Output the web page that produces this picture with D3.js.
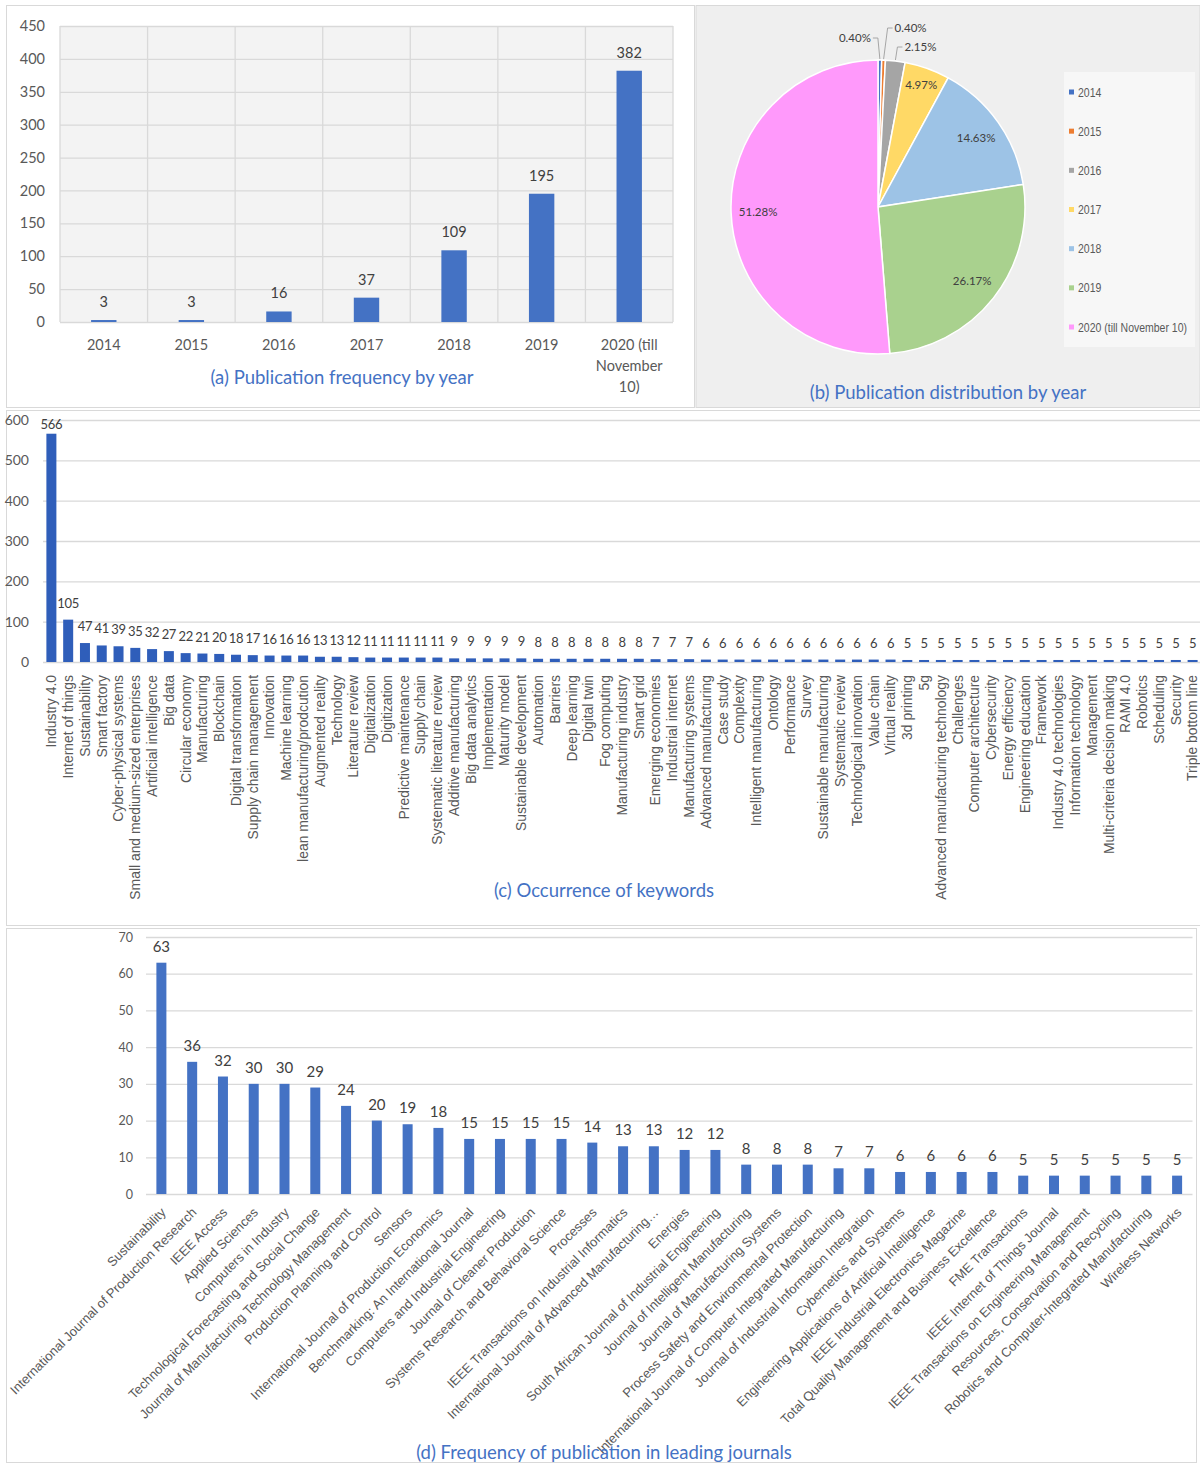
<!DOCTYPE html>
<html>
<head>
<meta charset="utf-8">
<script src="https://cdn.jsdelivr.net/npm/d3@7"></script>
<style>
  body { margin: 0; background: #fff; }
  svg text { font-family: Lato, "Open Sans", sans-serif; }
  .arial { font-family: "Liberation Sans", Arial, sans-serif; }
</style>
</head>
<body>
<svg id="chart" width="1200" height="1464"></svg>
<script>
// ---- data ----
const years = ["2014", "2015", "2016", "2017", "2018", "2019", "2020 (till November 10)"];
const yearCounts = [3, 3, 16, 37, 109, 195, 382];
const yearTicks = [0, 50, 100, 150, 200, 250, 300, 350, 400, 450];
const yearColors = ["#4472c4", "#ed7d31", "#a5a5a5", "#ffd966", "#9dc3e6", "#a9d18e", "#ff99fb"];

const keywords = ["Industry 4.0", "Internet of things", "Sustainability", "Smart factory", "Cyber-physical systems",
  "Small and medium-sized enterprises", "Artificial intelligence", "Big data", "Circular economy", "Manufacturing",
  "Blockchain", "Digital transformation", "Supply chain management", "Innovation", "Machine learning",
  "lean manufacturing/prodcution", "Augmented reality", "Technology", "Literature review", "Digitalization",
  "Digitization", "Predictive maintenance", "Supply chain", "Systematic literature review", "Additive manufacturing",
  "Big data analytics", "Implementation", "Maturity model", "Sustainable development", "Automation",
  "Barriers", "Deep learning", "Digital twin", "Fog computing", "Manufacturing industry",
  "Smart grid", "Emerging economies", "Industrial internet", "Manufacturing systems", "Advanced manufacturing",
  "Case study", "Complexity", "Intelligent manufacturing", "Ontology", "Performance",
  "Survey", "Sustainable manufacturing", "Systematic review", "Technological innovation", "Value chain",
  "Virtual reality", "3d printing", "5g", "Advanced manufacturing technology", "Challenges",
  "Computer architecture", "Cybersecurity", "Energy efficiency", "Engineering education", "Framework",
  "Industry 4.0 technologies", "Information technology", "Management", "Multi-criteria decision making", "RAMI 4.0",
  "Robotics", "Scheduling", "Security", "Triple bottom line"];
const keywordCounts = [566, 105, 47, 41, 39, 35, 32, 27, 22, 21,
  20, 18, 17, 16, 16, 16, 13, 13, 12, 11,
  11, 11, 11, 11, 9, 9, 9, 9, 9, 8,
  8, 8, 8, 8, 8, 8, 7, 7, 7, 6,
  6, 6, 6, 6, 6, 6, 6, 6, 6, 6,
  6, 5, 5, 5, 5, 5, 5, 5, 5, 5,
  5, 5, 5, 5, 5, 5, 5, 5, 5];
const keywordTicks = [0, 100, 200, 300, 400, 500, 600];

const journals = ["Sustainability", "International Journal of Production Research", "IEEE Access", "Applied Sciences",
  "Computers in Industry", "Technological Forecasting and Social Change", "Journal of Manufacturing Technology Management",
  "Production Planning and Control", "Sensors", "International Journal of Production Economics",
  "Benchmarking: An International Journal", "Computers and Industrial Engineering", "Journal of Cleaner Production",
  "Systems Research and Behavioral Science", "Processes", "IEEE Transactions on Industrial Informatics",
  "International Journal of Advanced Manufacturing\u2026", "Energies", "South African Journal of Industrial Engineering",
  "Journal of Intelligent Manufacturing", "Journal of Manufacturing Systems", "Process Safety and Environmental Protection",
  "International Journal of Computer Integrated Manufacturing", "Journal of Industrial Information Integration",
  "Cybernetics and Systems", "Engineering Applications of Artificial Intelligence", "IEEE Industrial Electronics Magazine",
  "Total Quality Management and Business Excellence", "FME Transactions", "IEEE Internet of Things Journal",
  "IEEE Transactions on Engineering Management", "Resources, Conservation and Recycling",
  "Robotics and Computer-Integrated Manufacturing", "Wireless Networks"];
const journalCounts = [63, 36, 32, 30, 30, 29, 24, 20, 19, 18, 15, 15, 15, 15, 14, 13, 13, 12, 12,
  8, 8, 8, 7, 7, 6, 6, 6, 6, 5, 5, 5, 5, 5, 5];
const journalTicks = [0, 10, 20, 30, 40, 50, 60, 70];

const titleBlue = "#4472c4";
const gridGray = "#d9d9d9";
const svg = d3.select("#chart");

function wrap(text, width) {
  text.each(function () {
    const t = d3.select(this);
    const words = t.text().split(/\s+/);
    const x = t.attr("x"), y = +t.attr("y");
    let line = [], n = 0;
    let tspan = t.text(null).append("tspan").attr("x", x).attr("y", y);
    words.forEach(w => {
      line.push(w);
      tspan.text(line.join(" "));
      if (tspan.node().getComputedTextLength() > width && line.length > 1) {
        line.pop();
        tspan.text(line.join(" "));
        line = [w];
        tspan = t.append("tspan").attr("x", x).attr("y", y + (++n) * 21).text(w);
      }
    });
  });
}

function styleGrid(g) {
  g.select(".domain").remove();
  g.selectAll(".tick line").attr("stroke", gridGray).attr("stroke-width", 1.3);
  g.selectAll(".tick text").attr("fill", "#595959");
}

// ---- panel frames ----
svg.append("rect").attr("x", 6.5).attr("y", 5.5).attr("width", 688).attr("height", 402)
  .attr("fill", "#fff").attr("stroke", gridGray);
svg.append("rect").attr("x", 696).attr("y", 5.5).attr("width", 504).attr("height", 402)
  .attr("fill", "#efefef").attr("stroke", gridGray);
svg.append("rect").attr("x", 6.5).attr("y", 410.5).attr("width", 1194).attr("height", 515)
  .attr("fill", "#fff").attr("stroke", gridGray);
svg.append("rect").attr("x", 6.5).attr("y", 928.5).attr("width", 1190).attr("height", 534)
  .attr("fill", "#fff").attr("stroke", gridGray);

// ---- (a) publication frequency by year ----
const ax = d3.scaleBand().domain(years).range([60, 673]);
const ay = d3.scaleLinear().domain([0, 450]).range([322, 26]);
const ga = svg.append("g");
ga.append("rect").attr("x", 60).attr("y", 26).attr("width", 613).attr("height", 296).attr("fill", "#f3f3f3");
ga.append("g").attr("transform", "translate(60,0)")
  .call(d3.axisLeft(ay).tickValues(yearTicks).tickSize(-613).tickPadding(15))
  .call(styleGrid)
  .call(g => g.selectAll(".tick text").attr("font-size", 14.5).attr("font-family", "Lato"));
ga.selectAll(".vgrid").data(d3.range(years.length + 1)).enter().append("line")
  .attr("x1", i => 60 + i * ax.step()).attr("x2", i => 60 + i * ax.step())
  .attr("y1", 26).attr("y2", 322).attr("stroke", gridGray).attr("stroke-width", 1.3);
const aw = ax.bandwidth() * 0.29;
ga.selectAll(".bar").data(years).enter().append("rect")
  .attr("x", d => ax(d) + (ax.bandwidth() - aw) / 2)
  .attr("width", aw)
  .attr("y", (d, i) => ay(yearCounts[i]))
  .attr("height", (d, i) => ay(0) - ay(yearCounts[i]))
  .attr("fill", "#4472c4");
ga.selectAll(".val").data(years).enter().append("text")
  .attr("x", d => ax(d) + ax.bandwidth() / 2)
  .attr("y", (d, i) => ay(yearCounts[i]) - 13)
  .attr("text-anchor", "middle").attr("font-size", 14.5).attr("fill", "#404040")
  .text((d, i) => yearCounts[i]);
ga.selectAll(".cat").data(years).enter().append("text")
  .attr("x", d => ax(d) + ax.bandwidth() / 2)
  .attr("y", 350)
  .attr("text-anchor", "middle").attr("font-size", 14.5).attr("fill", "#595959")
  .text(d => d)
  .call(wrap, 76);
ga.append("text").attr("x", 342).attr("y", 384).attr("text-anchor", "middle")
  .attr("font-size", 18.5).attr("fill", titleBlue).text("(a) Publication frequency by year");

// ---- (b) publication distribution by year ----
const pcx = 878, pcy = 207, pr = 147;
const total = d3.sum(yearCounts);
const pct = v => (v / total * 100).toFixed(2) + "%";
const slices = d3.pie().sort(null).value(d => d)(yearCounts);
const arc = d3.arc().innerRadius(0).outerRadius(pr);
const gb = svg.append("g").attr("transform", `translate(${pcx},${pcy})`);
gb.selectAll("path").data(slices).enter().append("path")
  .attr("d", arc)
  .attr("fill", (d, i) => yearColors[i])
  .attr("stroke", "#fff").attr("stroke-width", 1.5);

// labels inside / near the big slices
slices.forEach((s, i) => {
  const p = s.value / total * 100;
  if (p < 3) return;
  const lr = p < 10 ? 129 : 120;
  const c = d3.arc().innerRadius(lr).outerRadius(lr).centroid(s);
  gb.append("text").attr("x", c[0]).attr("y", c[1]).attr("dy", "0.35em")
    .attr("text-anchor", "middle").attr("font-size", 11.5).attr("fill", "#404040")
    .text(pct(s.value));
});
// leader-line labels for the thin slices
const smallLift = [169, 179, 160];
const smallSide = [-1, 1, 1];
const smallShift = [-2, 4, 2];
slices.forEach((s, i) => {
  const p = s.value / total * 100;
  if (p >= 3) return;
  const a = (s.startAngle + s.endAngle) / 2;
  const x0 = Math.sin(a) * (pr + 1), y0 = -Math.cos(a) * (pr + 1);
  const x1 = x0 + smallShift[i], y1 = -smallLift[i];
  const x2 = x1 + smallSide[i] * 5;
  gb.append("polyline").attr("points", `${x0},${y0} ${x1},${y1} ${x2},${y1}`)
    .attr("fill", "none").attr("stroke", "#a6a6a6").attr("stroke-width", 1);
  gb.append("text").attr("x", x2 + smallSide[i] * 2).attr("y", y1).attr("dy", "0.35em")
    .attr("text-anchor", smallSide[i] < 0 ? "end" : "start")
    .attr("font-size", 11.5).attr("fill", "#404040").text(pct(s.value));
});

// legend (condensed text, the original uses a narrow face)
const gl = svg.append("g");
gl.append("rect").attr("x", 1064).attr("y", 72).attr("width", 131).attr("height", 275).attr("fill", "#f7f7f7");
const ly = d3.scalePoint().domain(years).range([92, 327]);
gl.selectAll(".sw").data(years).enter().append("rect")
  .attr("x", 1069).attr("y", d => ly(d) - 2.5).attr("width", 5).attr("height", 5)
  .attr("fill", (d, i) => yearColors[i]);
gl.selectAll(".lt").data(years).enter().append("text")
  .attr("class", "arial")
  .attr("transform", d => `translate(1078,${ly(d)}) scale(0.84,1)`)
  .attr("dy", "0.36em")
  .attr("font-size", 12.5).attr("fill", "#595959").text(d => d);
svg.append("text").attr("x", 948).attr("y", 399).attr("text-anchor", "middle")
  .attr("font-size", 18.5).attr("fill", titleBlue).text("(b) Publication distribution by year");

// ---- (c) occurrence of keywords ----
const kx = d3.scaleBand().domain(keywords).range([43, 1201]);
const ky = d3.scaleLinear().domain([0, 600]).range([662, 420]);
const gc = svg.append("g");
gc.append("g").attr("transform", "translate(43,0)")
  .call(d3.axisLeft(ky).tickValues(keywordTicks).tickSize(-(1200 - 43)).tickPadding(14))
  .call(styleGrid)
  .call(g => g.selectAll(".tick text").attr("font-size", 14));
gc.selectAll(".bar").data(keywords).enter().append("rect")
  .attr("x", d => kx(d) + kx.bandwidth() / 2 - 5)
  .attr("width", 10)
  .attr("y", (d, i) => ky(keywordCounts[i]))
  .attr("height", (d, i) => ky(0) - ky(keywordCounts[i]))
  .attr("fill", "#2f5eba");
gc.selectAll(".val").data(keywords).enter().append("text")
  .attr("x", d => kx(d) + kx.bandwidth() / 2)
  .attr("y", (d, i) => Math.max(ky(keywordCounts[i]) - 12, 429))
  .attr("text-anchor", "middle").attr("font-size", 13).attr("letter-spacing", -0.3).attr("fill", "#404040")
  .text((d, i) => keywordCounts[i]);
gc.selectAll(".cat").data(keywords).enter().append("text")
  .attr("class", "arial")
  .attr("transform", d => `translate(${kx(d) + kx.bandwidth() / 2},675) rotate(-90)`)
  .attr("dy", "0.35em")
  .attr("text-anchor", "end").attr("font-size", 13.9).attr("fill", "#595959")
  .text(d => d);
gc.append("text").attr("x", 604).attr("y", 897).attr("text-anchor", "middle")
  .attr("font-size", 18.5).attr("fill", titleBlue).text("(c) Occurrence of keywords");

// ---- (d) frequency of publication in leading journals ----
const jx = d3.scaleBand().domain(journals).range([146, 1192.5]);
const jy = d3.scaleLinear().domain([0, 70]).range([1194, 937]);
const gd = svg.append("g");
gd.append("g").attr("transform", "translate(146,0)")
  .call(d3.axisLeft(jy).tickValues(journalTicks).tickSize(-(1192.5 - 146)).tickPadding(13))
  .call(styleGrid)
  .call(g => g.selectAll(".tick text").attr("font-size", 12.5));
gd.selectAll(".bar").data(journals).enter().append("rect")
  .attr("x", d => jx(d) + jx.bandwidth() / 2 - 5)
  .attr("width", 10)
  .attr("y", (d, i) => jy(journalCounts[i]))
  .attr("height", (d, i) => jy(0) - jy(journalCounts[i]))
  .attr("fill", "#4472c4");
gd.selectAll(".val").data(journals).enter().append("text")
  .attr("x", d => jx(d) + jx.bandwidth() / 2)
  .attr("y", (d, i) => jy(journalCounts[i]) - 11)
  .attr("text-anchor", "middle").attr("font-size", 15).attr("fill", "#404040")
  .text((d, i) => journalCounts[i]);
gd.selectAll(".cat").data(journals).enter().append("text")
  .attr("class", "arial")
  .attr("transform", d => `translate(${jx(d) + jx.bandwidth() / 2 + 2},1210) rotate(-45)`)
  .attr("dy", "0.35em")
  .attr("text-anchor", "end").attr("font-size", 13).attr("fill", "#595959")
  .text(d => d);
gd.append("text").attr("x", 604).attr("y", 1459).attr("text-anchor", "middle")
  .attr("font-size", 18.5).attr("fill", titleBlue).text("(d) Frequency of publication in leading journals");
</script>
</body>
</html>
